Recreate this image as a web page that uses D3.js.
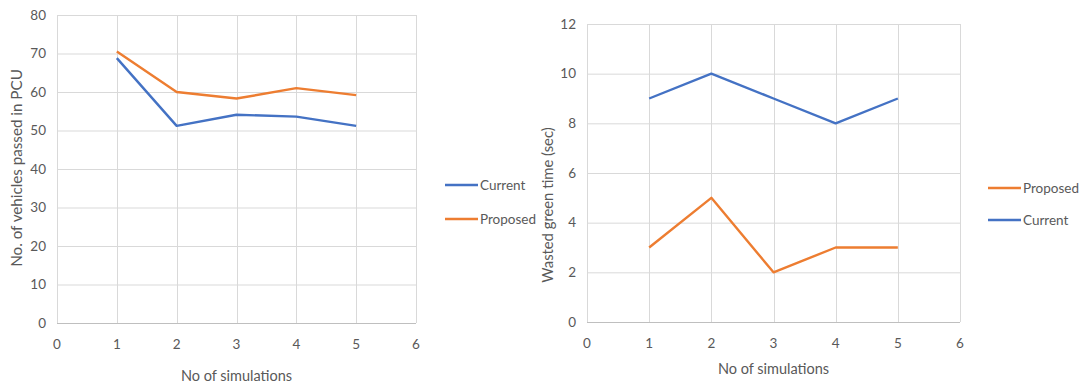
<!DOCTYPE html>
<html><head><meta charset="utf-8">
<script src="https://cdn.jsdelivr.net/npm/d3@7"></script>
<style>
body{margin:0;background:#fff;}
text{font-family:Lato,"Open Sans",sans-serif;fill:#595959;}
</style></head>
<body><svg id="c" width="1082" height="385"></svg>
<script>
const simulations = [1,2,3,4,5];
const vehiclesCurrent = [68.8, 51.2, 54.1, 53.6, 51.2];
const vehiclesProposed = [70.5, 60.0, 58.3, 61.0, 59.2];
const wastedCurrent = [9, 10, 9, 8, 9];
const wastedProposed = [3, 5, 2, 3, 3];
const xTicks = [0,1,2,3,4,5,6];
const yTicksLeft = [0,10,20,30,40,50,60,70,80];
const yTicksRight = [0,2,4,6,8,10,12];
const colors = {Current:"#4472C4", Proposed:"#ED7D31"};

const svg = d3.select("#c");

function chart(cfg){
  const g = svg.append("g");
  const x = d3.scaleLinear().domain([0,6]).range([cfg.x0, cfg.x1]);
  const y = d3.scaleLinear().domain([0, cfg.ymax]).range([cfg.y0, cfg.y1]);
  g.selectAll(".hg").data(cfg.yTicks.filter(d=>d>0)).join("line")
    .attr("x1", cfg.x0).attr("x2", cfg.x1)
    .attr("y1", d=>y(d)+0.5).attr("y2", d=>y(d)+0.5)
    .attr("stroke","#d9d9d9").attr("stroke-width",1);
  g.selectAll(".vg").data(xTicks).join("line")
    .attr("x1", d=>Math.round(x(d))+0.5).attr("x2", d=>Math.round(x(d))+0.5)
    .attr("y1", cfg.y1).attr("y2", cfg.y0)
    .attr("stroke","#d9d9d9").attr("stroke-width",1);
  g.append("line").attr("x1",cfg.x0).attr("x2",cfg.x1)
    .attr("y1",y(0)+0.5).attr("y2",y(0)+0.5).attr("stroke","#bfbfbf").attr("stroke-width",1);
  g.selectAll(".yl").data(cfg.yTicks).join("text")
    .attr("x", cfg.x0-11).attr("y", d=>y(d)).attr("dy","0.35em")
    .attr("text-anchor","end").attr("font-size",13.5).text(d=>d);
  g.selectAll(".xl").data(xTicks).join("text")
    .attr("x", d=>x(d)).attr("y", cfg.y0+21).attr("dy","0.35em")
    .attr("text-anchor","middle").attr("font-size",13.5).text(d=>d);
  g.append("text").attr("x",(cfg.x0+cfg.x1)/2).attr("y",cfg.xTitleY).attr("dy","0.35em")
    .attr("text-anchor","middle").attr("font-size",14.5).text("No of simulations");
  g.append("text").attr("transform",`translate(${cfg.yTitleX},${cfg.yTitleY}) rotate(-90)`)
    .attr("dy","0.35em").attr("text-anchor","middle").attr("font-size",cfg.yTitleSize).text(cfg.yTitle);
  const line = d3.line().x((d,i)=>x(simulations[i])).y(d=>y(d));
  cfg.series.forEach(s=>{
    g.append("path").datum(s.values).attr("d",line).attr("fill","none")
      .attr("stroke",colors[s.name]).attr("stroke-width",2.4).attr("stroke-linejoin","round");
  });
  cfg.series.slice().sort((a,b)=>a.order-b.order).forEach((s,i)=>{
    const ly = cfg.legY + i*cfg.legGap;
    g.append("line").attr("x1",cfg.legX).attr("x2",cfg.legX+33).attr("y1",ly).attr("y2",ly)
      .attr("stroke",colors[s.name]).attr("stroke-width",2.4);
    g.append("text").attr("x",cfg.legX+35).attr("y",ly).attr("dy","0.35em")
      .attr("font-size",13.5).text(s.name);
  });
}

chart({x0:57, x1:416, y0:323, y1:15, ymax:80, yTicks:yTicksLeft,
  xTitleY:376, yTitleX:17, yTitleY:168, yTitleSize:15.2, yTitle:"No. of vehicles passed in PCU",
  series:[{name:"Current",values:vehiclesCurrent,order:0},{name:"Proposed",values:vehiclesProposed,order:1}],
  legX:445, legY:185, legGap:34});

chart({x0:587, x1:960, y0:322, y1:24, ymax:12, yTicks:yTicksRight,
  xTitleY:369, yTitleX:548, yTitleY:205, yTitleSize:14.8, yTitle:"Wasted green time (sec)",
  series:[{name:"Current",values:wastedCurrent,order:1},{name:"Proposed",values:wastedProposed,order:0}],
  legX:988, legY:188, legGap:32});
</script></body></html>
